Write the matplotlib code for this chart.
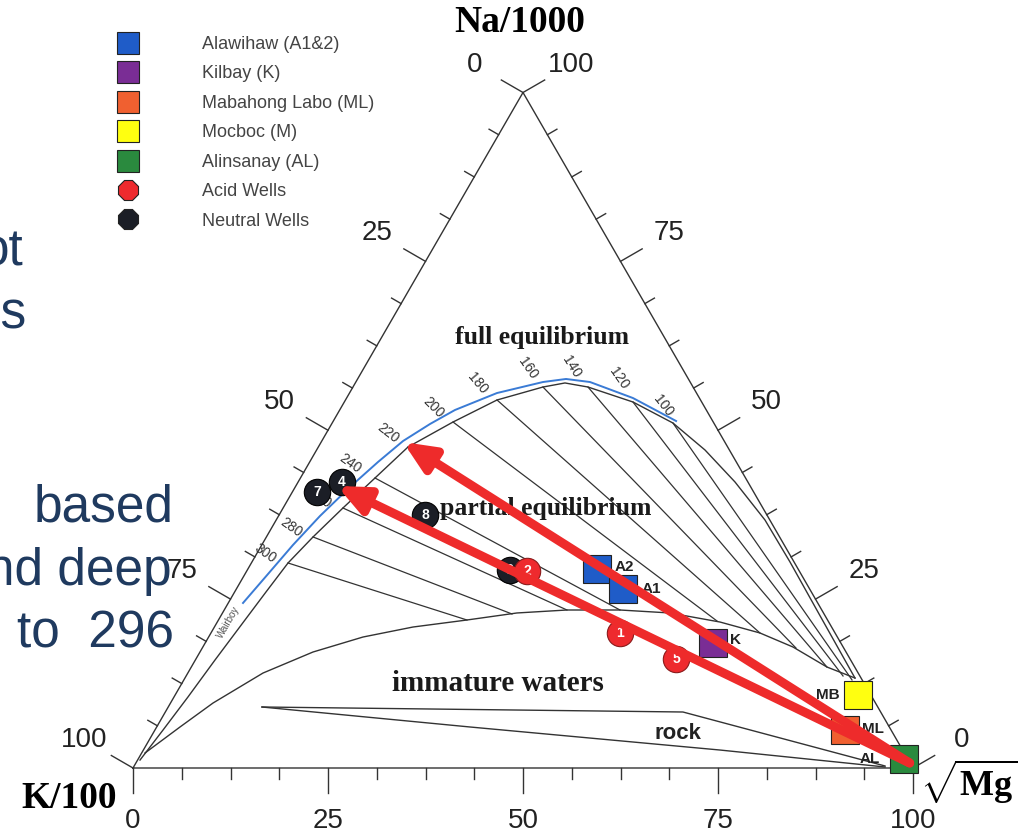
import numpy as np
import matplotlib.pyplot as plt
from matplotlib.lines import Line2D

plt.rcParams['font.family'] = ['Liberation Sans', 'DejaVu Sans']
plt.rcParams['mathtext.fontset'] = 'custom'
plt.rcParams['mathtext.rm'] = 'Liberation Serif'
plt.rcParams['mathtext.bf'] = 'Liberation Serif:bold'

# all compositions in percent: (Na/1000, sqrt(Mg)); K/100 = 100 - Na - Mg
full_eq_na = [1.18, 5.63, 10.51, 15.99, 21.91, 26.05, 30.35, 34.20, 38.49, 42.93, 47.52, 51.22,
              54.48, 56.40, 57.00, 56.40, 54.18, 51.07, 47.08, 42.34, 36.71, 30.50, 23.09, 13.32]
full_eq_mg = [0.31, 1.04, 1.79, 2.52, 3.40, 4.02, 4.70, 5.98, 7.67, 9.56, 11.50, 15.42,
              19.43, 24.36, 26.88, 30.13, 37.01, 43.69, 49.79, 56.01, 62.67, 68.98, 76.27, 85.90]

blue_na = [24.43, 28.72, 33.01, 37.31, 41.60, 45.30, 48.41, 50.93, 53.00, 55.51, 57.14, 57.59,
           57.14, 54.77, 51.37]
blue_mg = [1.89, 2.95, 4.00, 5.32, 7.02, 8.76, 10.42, 12.62, 14.78, 18.91, 23.99, 26.72,
           30.02, 36.71, 43.94]

immature_na = [2.22, 6.07, 9.62, 14.06, 17.17, 19.39, 20.87, 21.91, 22.95, 23.39, 23.39, 22.95,
               21.61, 19.99, 17.91, 14.95, 13.32]
immature_mg = [0.43, 2.99, 5.45, 9.64, 14.49, 19.79, 25.46, 31.86, 37.75, 43.94, 50.74, 57.37,
               64.45, 70.38, 75.66, 81.49, 85.90]

temps = [300, 280, 260, 240, 220, 200, 180, 160, 140, 120, 100]
iso_start_na = [30.35, 34.20, 38.49, 42.93, 47.52, 51.22, 54.48, 56.40, 56.40, 54.18, 51.07]
iso_start_mg = [4.70, 5.98, 7.67, 9.56, 11.50, 15.42, 19.43, 24.36, 30.13, 37.01, 43.69]
iso_end_na = [21.91, 22.80, 23.39, 23.39, 22.95, 21.76, 19.99, 17.76, 14.95, 13.62, 13.03]
iso_end_mg = [31.86, 37.19, 43.94, 50.74, 57.37, 63.99, 70.38, 76.12, 81.49, 84.22, 85.67]

rock_upper_na = [9.03, 8.29, 0.30]
rock_upper_mg = [12.02, 66.36, 96.26]
rock_lower_na = [9.03, 6.07, 2.66, 0.15]
rock_lower_mg = [12.02, 40.18, 73.93, 96.34]

groups = ['Alawihaw (A1&2)', 'Kilbay (K)', 'Mabahong Labo (ML)', 'Mocboc (M)',
          'Alinsanay (AL)', 'Acid Wells', 'Neutral Wells']
group_colors = ['#1f5cc8', '#7a2d95', '#f06030', '#ffff10', '#2a8a3e', '#ee2a2e', '#1b1e26']

site_names = ['A2', 'A1', 'K', 'MB', 'ML', 'AL']
site_group = [0, 0, 1, 3, 2, 4]
site_na = [29.46, 26.50, 18.50, 10.81, 5.63, 1.33]
site_mg = [44.76, 49.57, 65.11, 87.55, 88.47, 98.18]

neutral_names = ['7', '4', '8', '3']
neutral_na = [40.86, 42.34, 37.45, 29.31]
neutral_mg = [3.16, 5.62, 18.71, 33.67]
acid_names = ['2', '1', '5']
acid_na = [29.16, 19.99, 16.14]
acid_mg = [35.93, 52.45, 61.55]

arrow_start = (0.74, 99.2)
arrow_tip_na = [48.26, 41.75]
arrow_tip_mg = [10.49, 5.28]

ticks = np.arange(0, 100.01, 6.25)
major = [0, 25, 50, 75, 100]

# label placement (pixels) -- not data
temp_dx = [-23, -22, -23, -25, -20, -20, -20, -15, -16, -14, -10]
temp_dy = [10, 10, 10, 15, 14, 15, 17, 19, 20, 24, 17]
temp_rot = [-35, -35, -35, -35, -38, -45, -50, -55, -58, -55, -52]
site_dx = [18, 19, 17, -18, 17, -24]
site_dy = [2, 0, 3, 0, 1, 0]


def tern(na, mg):
    na = np.asarray(na, dtype=float) / 100
    mg = np.asarray(mg, dtype=float) / 100
    return mg + na / 2, na * np.sqrt(3) / 2


W, H = 1021, 836
left_px, base_px, side_px = 133, 768, 780
px = 1 / side_px

fig = plt.figure(figsize=(W / 100, H / 100), dpi=100)
ax = fig.add_axes([0, 0, 1, 1])
ax.set_xlim(-left_px / side_px, (W - left_px) / side_px)
ax.set_ylim(-(H - base_px) / side_px, base_px / side_px)
ax.axis('off')

line_c = '#333333'

# triangle frame
tx, ty = tern([0, 100, 0, 0], [0, 0, 100, 0])
ax.plot(tx, ty, color=line_c, lw=1.0)

# ticks and tick labels
nrm_left = np.array([-np.sqrt(3) / 2, 0.5])
nrm_right = np.array([np.sqrt(3) / 2, 0.5])
nrm_bottom = np.array([0.0, -1.0])
for v in ticks:
    L = (25 if v in major else 11) * px
    for (na, mg), n in [((0, v), nrm_bottom), ((100 - v, 0), nrm_left), ((v, 100 - v), nrm_right)]:
        x0, y0 = tern(na, mg)
        ax.plot([x0, x0 + n[0] * L], [y0, y0 + n[1] * L], color=line_c, lw=1.0)
for v in major:
    lab = str(v)
    x0, y0 = tern(0, v)
    ax.text(x0, y0 - 53 * px, lab, ha='center', va='center', fontsize=20, color='#222222')
    x0, y0 = tern(100 - v, 0)
    ax.text(x0 + nrm_left[0] * 56 * px, y0 + nrm_left[1] * 56 * px, lab,
            ha='center', va='center', fontsize=20, color='#222222')
    x0, y0 = tern(v, 100 - v)
    ax.text(x0 + nrm_right[0] * 56 * px, y0 + nrm_right[1] * 56 * px, lab,
            ha='center', va='center', fontsize=20, color='#222222')

# vertex labels
ax.annotate('Na/1000', tern(100, 0), xytext=(-3, 70), textcoords='offset pixels',
            ha='center', va='center', fontsize=27, family='Liberation Serif', weight='bold')
ax.annotate('K/100', tern(0, 0), xytext=(-64, -30), textcoords='offset pixels',
            ha='center', va='center', fontsize=27, family='Liberation Serif', weight='bold')
ax.annotate(r'$\sqrt{\mathbf{Mg}}$', tern(0, 100), xytext=(56, -14), textcoords='offset pixels',
            ha='center', va='center', fontsize=26)

# equilibrium curves, isotherms, rock field
ax.plot(*tern(full_eq_na, full_eq_mg), color=line_c, lw=1.0, zorder=2)
ax.plot(*tern(immature_na, immature_mg), color=line_c, lw=1.0, zorder=2)
ax.plot(*tern(blue_na, blue_mg), color='#3a7bd5', lw=1.4, zorder=3)
for i, t in enumerate(temps):
    xs, ys = tern([iso_start_na[i], iso_end_na[i]], [iso_start_mg[i], iso_end_mg[i]])
    ax.plot(xs, ys, color=line_c, lw=0.9, zorder=2)
    ax.annotate(str(t), (xs[0], ys[0]), xytext=(temp_dx[i], temp_dy[i]), textcoords='offset pixels',
                ha='center', va='center', rotation=temp_rot[i], fontsize=10, color='#333333', zorder=3)
ax.plot(*tern(rock_upper_na, rock_upper_mg), color=line_c, lw=1.0, zorder=2)
ax.plot(*tern(rock_lower_na, rock_lower_mg), color=line_c, lw=1.0, zorder=2)

# field names
serif = dict(family='Liberation Serif', weight='bold', color='#1a1a1a', ha='center', va='center')
ax.text(*tern(63.80, 20.54), 'full equilibrium', fontsize=18.5, **serif)
ax.text(*tern(38.49, 33.70), 'partial equilibrium', fontsize=18.5, **serif)
ax.text(*tern(12.58, 40.50), 'immature waters', fontsize=21, **serif)
ax.text(*tern(5.18, 67.28), 'rock', fontsize=16, weight='bold', color='#222222', ha='center', va='center')
ax.text(*tern(21.61, 1.37), 'Wairboy', fontsize=7, rotation=60, color='#555555', ha='center', va='center')

# springs
for i, name in enumerate(site_names):
    xy = tern(site_na[i], site_mg[i])
    ax.plot(*xy, marker='s', ms=19.5, color=group_colors[site_group[i]], mec='#222222', mew=0.8,
            ls='none', zorder=5)
    ax.annotate(name, xy, xytext=(site_dx[i], site_dy[i]), textcoords='offset pixels',
                ha='left' if site_dx[i] > 0 else 'right', va='center', fontsize=11, weight='bold',
                color='#222222', zorder=6)

# wells
for names, na, mg, c, ec in [(neutral_names, neutral_na, neutral_mg, group_colors[6], '#000000'),
                             (acid_names, acid_na, acid_mg, group_colors[5], '#8a1a1a')]:
    for i, name in enumerate(names):
        xy = tern(na[i], mg[i])
        ax.plot(*xy, marker='o', ms=19, color=c, mec=ec, mew=0.8, ls='none', zorder=5)
        ax.annotate(name, xy, ha='center', va='center', fontsize=10, weight='bold',
                    color='white', zorder=6)

# mixing arrows
for i in range(len(arrow_tip_na)):
    ax.annotate('', xy=tern(arrow_tip_na[i], arrow_tip_mg[i]), xytext=tern(*arrow_start),
                arrowprops=dict(arrowstyle='-|>,head_length=0.9,head_width=0.4', lw=6.5,
                                color='#ee2b2b', shrinkA=0, shrinkB=0, mutation_scale=20),
                zorder=8)

# legend
handles = []
for k, lab in enumerate(groups):
    mk = 's' if k < 5 else '8'
    handles.append(Line2D([], [], marker=mk, ls='none', ms=16, color=group_colors[k],
                          mec='#222222', mew=0.8, label=lab))
leg = ax.legend(handles=handles, loc='upper left', bbox_to_anchor=(110 / W, 1 - 36 / H),
                bbox_transform=fig.transFigure, frameon=False, fontsize=13, borderpad=0,
                handlelength=2.0, handletextpad=3.1, labelspacing=0.69, borderaxespad=0)
for t in leg.get_texts():
    t.set_color('#444444')

# slide text cut off at left edge
slide = dict(fontsize=37, color='#1f3a5f', ha='right', va='baseline')
fig.text(24 / W, 1 - 265 / H, 'ot', **slide)
fig.text(27 / W, 1 - 328 / H, 'es', **slide)
fig.text(174 / W, 1 - 521 / H, 'based', **slide)
fig.text(172 / W, 1 - 585 / H, 'nd deep', **slide)
fig.text(174 / W, 1 - 647 / H, 'to  296', **slide)

fig.savefig('out.png', dpi=100)
